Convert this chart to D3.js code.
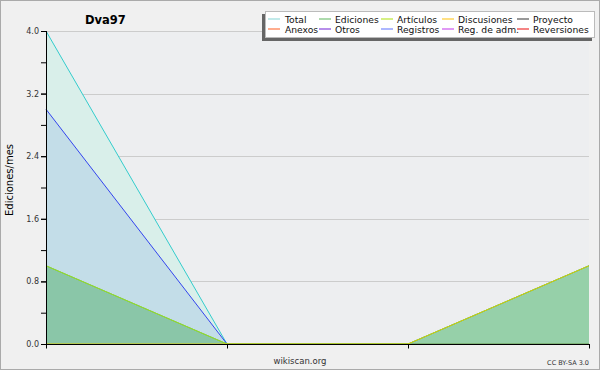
<!DOCTYPE html>
<html><head><meta charset="utf-8">
<script src="https://cdn.jsdelivr.net/npm/d3@7"></script>
<style>body{margin:0;background:#fff;}svg{display:block;font-family:"DejaVu Sans",sans-serif;}</style>
</head><body>
<svg id="c" width="600" height="370"></svg>
<script>
const title = "Dva97";
const months = [0, 1, 2, 3];
const yTicks = [0, 0.8, 1.6, 2.4, 3.2, 4.0];
const yMinorTicks = [0, 0.4, 0.8, 1.2, 1.6, 2.0, 2.4, 2.8, 3.2, 3.6, 4.0];
const totalValues = [4, 0, 0, 1];
const registrosValues = [3, 0, 0, 0];
const edicionesValues = [1, 0, 0, 1];
const articulosValues = [1, 0, 0, 0];
const discusionesValues = [0, 0, 0, 1];
const legendNames = ["Total","Ediciones","Artículos","Discusiones","Proyecto","Anexos","Otros","Registros","Reg. de adm.","Reversiones"];
const legendColors = ["#99dddd","#77c277","#bbe633","#ffcc33","#555555","#ff7744","#8844dd","#7788ff","#cc55ee","#ee3333"];

const series = [
  {v: totalValues, line: "#33cccc", fill: "#d9efea", op: 1},
  {v: registrosValues, line: "#3344ee", fill: "#c3dde8", op: 1},
  {v: edicionesValues, line: "#66bb66", fill: "#44aa5a", op: 0.45},
  {v: articulosValues, line: "#99dd22", fill: "none", op: 0},
  {v: discusionesValues, line: "#ddcc00", fill: "none", op: 0}
];

const svg = d3.select("#c");
svg.append("rect").attr("x",0.5).attr("y",0.5).attr("width",599).attr("height",369)
  .attr("fill","#f0f0f0").attr("stroke","#aaaaaa");

const L = 46, R = 589, T = 31, B = 344;
const x = d3.scaleLinear().domain([0,3]).range([L,R]);
const y = d3.scaleLinear().domain([0,4]).range([B,T]);

svg.append("rect").attr("x",L).attr("y",T).attr("width",R-L).attr("height",B-T).attr("fill","#edeef0");

// grid
svg.append("g").selectAll("line").data(yTicks).join("line")
  .attr("x1",L).attr("x2",R).attr("y1",d=>Math.round(y(d))+0.5).attr("y2",d=>Math.round(y(d))+0.5)
  .attr("stroke","#cccccc");

const area = d3.area().x((d,i)=>x(months[i])).y0(y(0)).y1(d=>y(d));
const line = d3.line().x((d,i)=>x(months[i])).y(d=>y(d));

series.forEach(s=>{
  if (s.fill !== "none") svg.append("path").datum(s.v).attr("d",area).attr("fill",s.fill).attr("fill-opacity",s.op);
});
series.forEach(s=>{
  svg.append("path").datum(s.v).attr("d",line).attr("fill","none").attr("stroke",s.line).attr("stroke-width",1);
});

// axes
const yAxisMinor = d3.axisLeft(y).tickValues(yMinorTicks).tickSize(5).tickFormat("");
svg.append("g").attr("transform",`translate(${L},0)`).call(yAxisMinor)
  .call(g=>g.select(".domain").remove()).selectAll("line").attr("stroke","#000");
const yAxis = d3.axisLeft(y).tickValues(yTicks).tickSize(5).tickPadding(2).tickFormat(d3.format(".1f"));
const ya = svg.append("g").attr("transform",`translate(${L},0)`).call(yAxis);
ya.select(".domain").remove();
ya.selectAll("line").attr("stroke","#000");
ya.selectAll("text").attr("font-size",8).attr("fill","#333").attr("font-family","DejaVu Sans");
svg.append("line").attr("x1",L+0.5).attr("x2",L+0.5).attr("y1",T).attr("y2",B+1).attr("stroke","#000");

const xAxis = d3.axisBottom(x).tickValues(months).tickSize(4).tickFormat("");
const xa = svg.append("g").attr("transform",`translate(0,${B+0.5})`).call(xAxis);
xa.select(".domain").attr("stroke","#000").attr("d",`M${L},0H${R+1}`);
xa.selectAll("line").attr("stroke","#000");

// title
svg.append("text").attr("x",85).attr("y",24).attr("font-size",11.5).attr("font-weight","bold").attr("fill","#000").text(title);

// y label
svg.append("text").attr("transform","translate(13,180) rotate(-90)").attr("text-anchor","middle")
  .attr("font-size",10).attr("fill","#000").text("Ediciones/mes");

// footer
svg.append("text").attr("x",300).attr("y",364).attr("text-anchor","middle").attr("font-size",8.5).attr("fill","#333").text("wikiscan.org");
svg.append("text").attr("x",589).attr("y",365).attr("text-anchor","end").attr("font-size",6.5).attr("fill","#333").text("CC BY-SA 3.0");

// legend
svg.append("rect").attr("x",262).attr("y",14).attr("width",330).attr("height",27).attr("fill","#666");
svg.append("rect").attr("x",265.5).attr("y",11.5).attr("width",329).attr("height",26).attr("fill","#fff").attr("stroke","#bbbbbb");
const colX = [268, 319, 381, 442, 517];
const leg = svg.append("g").selectAll("g").data(legendNames).join("g")
  .attr("transform",(d,i)=>`translate(${colX[i%5]},${i<5?19:29})`);
leg.append("line").attr("x1",0).attr("x2",12).attr("y1",0).attr("y2",0).attr("stroke",(d,i)=>legendColors[i]).attr("stroke-width",1.2);
leg.append("text").attr("x",(d,i)=>i%5===0?17:16).attr("y",3.5).attr("font-size",9.2).attr("fill","#111").text(d=>d);
</script>
</body></html>
